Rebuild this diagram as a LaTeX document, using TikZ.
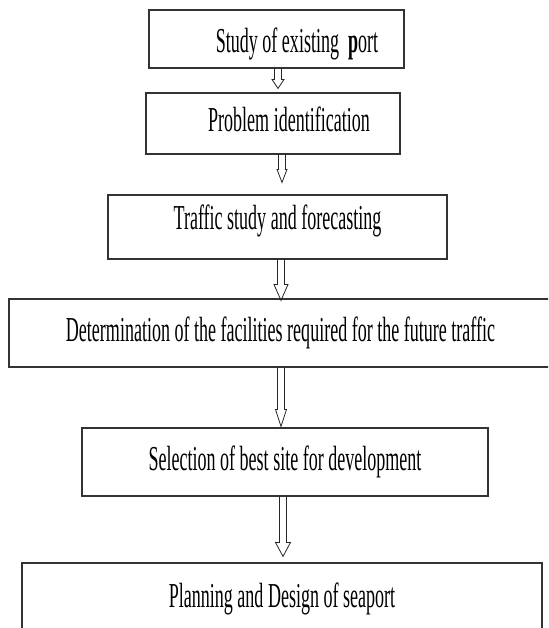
\documentclass[tikz,border=0pt]{standalone}
\usepackage{fontspec}
\newfontfamily\flowfont[FakeStretch=0.515]{Liberation Serif}
\usetikzlibrary{calc}

\begin{document}
\begin{tikzpicture}[x=1pt,y=1pt,
  stage/.style={draw=black!80,line width=1.1pt,inner sep=0pt,text=black,
    font=\flowfont\fontsize{35}{38}\selectfont,text height=24pt,text depth=7pt},
  hollow/.style={draw=black!85,line width=0.8pt,line join=miter}]

\useasboundingbox (0,0) rectangle (548,628);
\clip (0,0) rectangle (548,628);

% --- stages --------------------------------------------------------------
\node[stage,minimum width=255pt,minimum height=58pt] (study) at (276.5,589)
  {\raisebox{-5pt}{\hspace*{41pt}Study of existing\ \ {\bfseries p}ort}};
\node[stage,minimum width=254pt,minimum height=61pt] (problem) at (273,504.5)
  {\hspace*{32pt}Problem identification};
\node[stage,minimum width=339pt,minimum height=64pt] (traffic) at (277.5,401)
  {\raisebox{6pt}{Traffic study and forecasting}};
\node[stage,minimum width=543pt,minimum height=68pt] (facility) at (280.5,295)
  {Determination of the facilities required for the future traffic};
\node[stage,minimum width=406pt,minimum height=68pt] (site) at (285,166)
  {Selection of best site for development};
\node[stage,minimum width=520pt,minimum height=72pt] (plan) at (282,29)
  {Planning and Design of seaport};

% --- hollow arrows -------------------------------------------------------
\foreach \src/\dst/\ax/\hl/\hw/\gap in {study/problem/278/9/6/4,
    problem/traffic/282/13/5/12, traffic/facility/281/16/7/-2,
    facility/site/281/17/5.5/1, site/plan/283/14/7.5/6}
  \draw[hollow] let \p1=(\src.south), \p2=(\dst.north) in
    (\ax-3.5,\y1) -- (\ax-3.5,\y2+\gap+\hl) -- (\ax-\hw,\y2+\gap+\hl)
    -- (\ax,\y2+\gap) -- (\ax+\hw,\y2+\gap+\hl) -- (\ax+3.5,\y2+\gap+\hl)
    -- (\ax+3.5,\y1);
\end{tikzpicture}
\end{document}
